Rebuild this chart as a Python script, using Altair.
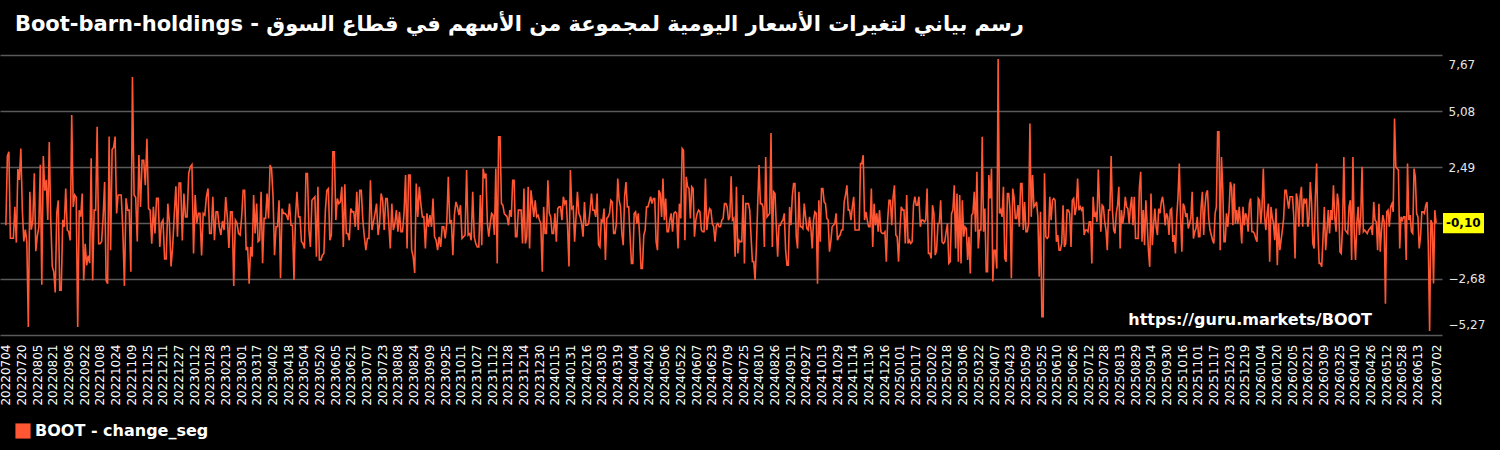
import altair as alt
import pandas as pd

# ---- data (daily change estimates, per period) ----
bounds = ["2022-07-04", "2022-10-28", "2023-02-28", "2023-06-30", "2023-10-31",
          "2024-03-01", "2024-07-02", "2024-11-01", "2025-03-03", "2025-07-04",
          "2025-11-03", "2026-03-06", "2026-07-02"]

p01 = [-0.2, 3.0, 3.2, -0.8, -0.8, -0.8, 0.65, -1.0, 2.4, 1.9, 3.35, 0.5, -0.95, -0.4, -0.95, -4.9, 1.35, -0.4, 0.0, 2.2, -1.4, -0.7, -0.3, 2.6, -2.95, 3.0, 1.4, 1.9, 0.05, 3.65, 0.05, -2.1, -2.35, -3.3, 0.35, 0.95, -3.2, -3.2, 0.05, -0.27, 1.5, -0.42, -0.5, -0.9, 4.9, 0.65, 1.2, 1.1, -4.9, 0.5, 0.2, 1.27, -2.75, -1.05, -2.05, -1.6, -1.95, 2.9, -2.75, 0.5, 0.5, 4.35, -1.05, -1.05, -0.95, 0.2, 1.8, -2.75, -2.9, 3.9, -1.35, 3.3, 3.4, 3.9, 0.35, 1.2]
p02 = [1.2, 1.2, -0.42, -3.0, 1.05, 0.5, 0.5, -2.35, 6.65, 1.2, 1.1, -0.95, 3.05, 0.65, 2.8, 2.8, 1.65, 3.8, 0.57, 0.5, -1.05, 0.65, -0.58, 1.05, 1.05, -1.2, -0.1, 0.04, -1.75, -1.75, 0.8, -0.1, -2.1, -1.2, 0.27, 1.6, -0.73, 1.75, 1.75, -0.9, 1.27, 0.19, 0.19, 2.2, 2.5, 2.6, -1.5, 1.2, -0.1, 0.35, 0.35, -1.6, 0.35, 0.27, 1.12, 1.5, -0.58, -0.58, 1.12, -0.89, 0.42, 0.42, -0.27, -0.65, 0.0, -0.42, 1.1, 0.19, -1.25, 0.42, 0.42, -3.0, 0.04, -0.1, -0.58]
p03 = [-0.65, 0.19, 1.42, 1.42, -1.35, -1.2, -2.9, -1.2, -1.65, 1.2, -0.58, 0.8, -0.96, -0.89, 1.35, -1.95, 0.12, 0.12, 1.27, 0.12, 2.58, 2.42, 1.12, -1.58, -0.27, -0.27, 0.96, -2.65, 0.57, 0.35, 0.35, 0.27, 0.04, 0.8, -0.2, -0.2, -2.73, 0.19, 1.35, 0.19, 0.19, -0.96, -1.04, -1.27, 2.19, 2.19, -0.42, -1.2, 0.96, 1.04, 1.12, -1.65, 1.58, -1.8, -1.8, -1.58, -1.5, 0.5, 1.42, 1.5, -0.89, -0.65, 3.2, 3.2, 0.04, 1.04, 0.8, 0.88, 1.58, -1.2, 1.7, -0.58, -0.58, -0.89, 0.57, 0.42, 0.42, -0.27, 1.35, -0.42]
p04 = [1.42, 1.42, 0.04, -0.73, -1.35, -0.81, -0.81, 1.88, -0.42, -0.04, 0.35, 0.8, -0.65, -0.12, 1.27, 0.96, -0.42, 1.04, 1.04, -0.12, -1.27, 0.8, -0.42, -0.12, 0.5, -0.5, 0.42, -0.5, -0.5, 0.35, 2.12, -1.27, 2.12, 2.12, -1.35, -1.65, -2.4, 1.73, 0.19, 1.58, 0.8, 0.19, 0.19, -1.27, 0.35, -0.27, 0.27, -0.27, 1.04, -0.73, -0.89, -1.35, -0.73, -1.2, -0.27, -0.27, -0.81, -0.12, 2.04, -0.12, 0.04, -1.58, 0.27, 0.88, 0.65, 0.27, 0.73, -0.81, -0.73, -0.65, 2.35, -0.65, -0.58, -0.89, 1.35, -0.73, -1.04, -1.2, -1.2]
p05 = [1.2, -1.12, 2.42, 2.04, 2.19, -0.12, -0.73, -0.12, 0.35, 0.27, -0.65, 2.42, -1.96, 3.89, 3.89, 0.8, 0.73, 0.35, 0.27, 0.19, -0.2, 0.5, 0.19, 1.88, 1.88, -0.73, -0.73, 0.5, 0.5, 0.5, -1.04, 1.5, -1.04, -0.73, 1.58, -1.27, 1.42, 0.8, 0.19, 0.96, 0.19, 0.27, 0.04, -0.12, -2.35, 0.65, -0.58, -0.58, 1.88, 0.35, 0.19, -0.58, -0.58, 0.35, -0.96, 0.57, 0.65, 0.65, 0.04, 1.12, 0.8, 0.96, -0.27, -2.1, 2.35, 0.57, 0.65, -0.96, 0.19, 1.35, 0.35, 0.19, -0.12, -0.73, 0.88, -0.2, -0.2, -0.12, 0.5, 1.27, 0.5, 0.5, 0.19, 1.27, -1.1]
p06 = [-1.2, 0.04, -0.04, 0.57, -1.8, 0.12, 0.19, 0.35, 0.96, 0.88, -0.58, -0.58, -0.12, 1.96, 0.96, 0.65, -0.58, -1.12, 1.12, 1.8, 0.65, 0.65, -0.73, -1.96, -1.96, 0.35, 0.42, -0.12, 0.35, -0.73, -2.2, -2.2, -0.65, -0.42, 0.65, 0.65, 0.88, 1.12, 0.8, 1.04, 1.04, -0.96, -1.35, 1.42, 1.27, 0.19, 1.96, 0.04, 1.04, -0.5, -0.5, 0.04, 0.35, -0.5, 0.35, 0.42, 0.35, -1.27, 0.8, 0.12, 3.35, 3.27, -0.89, 2.04, 1.58, 1.5, 0.12, 1.58, 1.5, -0.73, 0.04, 0.35, 0.5, 0.42, -0.42, -0.5, -0.5, 1.96, -0.42, 0.19, 0.57, 0.5, -0.12, -0.27, -0.96, -0.2, -0.12, -0.27]
p07 = [-0.27, 0.04, 0.12, 0.8, 0.8, 0.65, 0.04, 0.19, 2.07, 0.04, 0.12, -1.65, 1.58, -1.5, -0.89, -0.96, -0.96, 1.2, -1.96, 0.8, 0.8, 0.8, 0.5, -0.73, -1.88, -1.88, -2.73, -1.2, 0.8, 2.58, 0.8, 0.8, 0.65, -1.2, 2.96, 0.19, 0.27, 0.35, 4.07, -1.2, 1.35, 1.27, -0.27, -1.65, -0.2, -0.2, -0.04, 0.04, 0.35, -1.35, -2.04, -2.04, 0.65, -0.2, 1.12, 1.73, 1.73, -0.73, -1.27, 1.35, -0.27, -0.27, -0.35, 0.8, 0.19, -0.35, -0.42, 0.19, -0.35, -1.27, 0.04, 0.42, 0.35, -2.9, 0.96, -0.96, 1.5, 1.5, 0.88, 0.8, 0.12, 0.04, -1.42, -0.96, -0.27, -0.2, -0.12, 0.35, -0.89, -0.73]
p08 = [-0.65, -0.42, -0.42, 0.88, 1.2, 1.65, 0.5, 0.5, 0.04, 0.65, 1.12, -0.42, -0.42, -0.42, -0.42, 2.65, 2.65, 3.04, 0.04, 0.42, 0.04, -0.27, -0.27, 1.5, -1.2, 0.8, -0.2, 0.35, -0.5, 0.5, -0.5, -0.58, -0.58, -0.5, -1.88, 0.04, 0.96, 0.96, -0.2, 1.12, 1.65, -0.65, -0.73, -1.88, -0.42, 0.65, 0.5, 0.5, -1.04, 1.2, -1.04, -0.89, -1.04, -0.96, 0.73, 1.12, 0.73, 0.73, 1.12, -0.27, 0.04, 0.04, -0.04, 0.04, 1.5, -1.5, -1.5, -1.73, 0.73, 0.35, -1.58, -1.35, -0.12, -0.12, 0.96, -0.96, -1.04, -0.96, -0.5, -0.12, -1.96, -1.88, 0.35, 0.5, 1.65, -1.27, 1.27, -1.88]
p09 = [1.2, -1.96, 0.96, -0.73, -0.27, -0.35, -1.8, -0.73, -2.43, 0.27, 0.35, 1.35, -0.5, 2.27, -1.27, -0.42, -0.42, 3.89, -0.5, 0.57, -2.35, -2.35, 2.12, 1.04, 2.42, -2.8, -1.35, -1.35, -2.2, 7.48, 0.35, 0.5, 0.19, 1.58, -1.73, -1.88, 1.27, 1.27, 0.5, -2.65, 1.5, 1.12, 0.12, 0.12, 0.73, -0.27, 1.73, 1.73, -0.42, 0.88, -0.5, -0.5, -0.12, 4.5, 0.19, 2.12, 0.65, 0.73, 0.88, 0.19, -2.58, 0.42, -4.43, -4.43, 2.2, -0.73, -0.81, -0.73, 1.12, 0.04, 0.96, 1.04, 0.96, -0.96, -0.65, -1.35, -1.35, -1.04, 0.73, -1.2, -1.04, 0.5, 0.5, 0.35, -1.2, 0.96, 1.04, 0.27, 0.65, 1.96, 0.5]
p10 = [0.65, 0.5, 0.65, -0.65, -0.42, -0.42, -0.5, -0.04, -0.04, -1.96, 1.12, 0.19, 0.35, -0.04, 2.38, 0.65, -0.5, 0.73, 0.65, -0.04, -0.42, -1.35, 0.5, 0.5, 3.0, 0.5, -0.42, -0.58, 0.35, 0.73, 1.58, -1.27, 0.5, -0.12, 0.27, 1.12, 0.65, 0.57, -0.12, 0.65, 1.12, -0.2, 1.12, -0.81, -0.81, -0.81, 1.58, 2.27, -0.96, 0.5, -1.12, 0.96, -0.12, -1.35, -2.12, 1.27, -1.12, -0.2, 0.57, -0.27, -0.65, 0.57, 0.35, 0.88, 1.12, 0.65, -0.2, 0.35, 0.19, -0.65, 0.5, 0.57, -0.96, -0.65, -1.5, 0.19, 1.12, 2.65, 0.19, -1.42, 0.8, 0.65, 0.19, 0.35, -0.35, -0.12, 0.12, 1.35, -0.81, -0.5, -0.35, 0.19, -0.73]
p11 = [-0.73, 0.65, 1.35, -0.65, 0.65, 1.27, 1.42, 0.12, -0.42, -0.65, -0.89, -1.04, 0.35, 0.65, 4.12, 4.12, -1.35, 2.96, 1.58, -0.96, -0.96, 0.35, -0.27, 0.5, 1.8, 1.58, -0.2, 1.73, -0.12, 0.5, -0.12, 0.65, -0.12, -1.04, 0.65, -0.2, 0.35, 0.19, -0.5, 0.8, 1.04, -0.5, -0.5, -0.58, -0.81, -0.96, 1.04, 0.96, -0.12, 0.65, 2.42, 0.19, -0.42, 0.35, 0.8, -1.88, 0.65, 0.19, -0.12, -0.89, 0.57, -2.04, -0.12, -1.35, -0.89, -0.42, 0.12, 1.42, 1.42, 0.96, 0.57, 1.12, 1.12, 1.12, 0.19, -1.73, 1.27, 0.96, -0.27, 1.12, 1.58, -0.27, 1.04, 0.8, 1.04, -0.27, 0.12, 1.8, 0.88, -1.04, -1.27, 1.12, 2.65, -0.42, -1.96]
p12 = [-1.96, -2.12, -0.73, 0.65, -1.35, -0.5, 0.5, -0.58, 0.5, 0.04, 1.65, 0.19, -0.5, 1.27, 0.8, -1.42, -1.5, -0.27, 2.96, -0.42, -0.5, -0.58, 0.65, 0.96, -1.8, 2.96, -0.58, -1.8, -0.12, 0.65, -0.65, 0.19, 2.5, -0.5, -0.42, -0.5, -0.58, -0.42, -0.35, -0.27, -0.65, 0.88, 0.04, -0.04, -1.35, 0.8, -1.42, -0.42, 0.27, -0.04, -3.82, 0.42, 0.5, -0.27, 0.65, 0.8, 0.42, 4.74, 2.5, 2.42, 2.35, -1.27, 0.19, 0.04, 0.19, 0.19, -1.8, 2.65, 0.04, 0.27, -0.5, -0.58, 2.42, 2.04, 0.35, 0.19, -1.27, -0.73, 0.42, 0.42, 0.35, 0.73, 0.88, -1.12, -5.08, 0.04, -0.12, -2.89, 0.5, -0.1]

periods = [p01, p02, p03, p04, p05, p06, p07, p08, p09, p10, p11, p12]

y_ticks = [7.67, 5.08, 2.49, -0.10, -2.68, -5.27]
highlight_value = -0.10
series_name = "BOOT - change_seg"
title_text = "Boot-barn-holdings - رسم بياني لتغيرات الأسعار اليومية لمجموعة من الأسهم في قطاع السوق"
watermark = "https://guru.markets/BOOT"

# ---- build table ----
rows = []
for i, vals in enumerate(periods):
    s = pd.Timestamp(bounds[i])
    e = pd.Timestamp(bounds[i + 1])
    last = i == len(periods) - 1
    ts = pd.date_range(s, e, periods=len(vals) + (0 if last else 1))
    if not last:
        ts = ts[:-1]
    for t, v in zip(ts, vals):
        rows.append({"date": t.strftime("%Y-%m-%dT%H:%M:%SZ"), "v": v, "series": series_name})
df = pd.DataFrame(rows)

start = pd.Timestamp(bounds[0])
end = pd.Timestamp(bounds[-1])
label_dates = list(pd.date_range(start, end, freq="16D"))
# the final date is always labelled; a regular label too close to it is dropped
label_dates = [d for d in label_dates if (end - d).days >= 16]
label_dates.append(end)


def dt(d):
    return alt.DateTime(year=d.year, month=d.month, date=d.day, utc=True)


x_values = [dt(d) for d in label_dates]
x_domain = [dt(start - pd.Timedelta(days=6)), dt(end + pd.Timedelta(days=6))]

yscale = alt.Scale(domain=[min(y_ticks), max(y_ticks)], nice=False, zero=False)
xscale = alt.Scale(type="utc", domain=x_domain, nice=False)

label_expr = ("abs(datum.value - (%f)) < 0.001 ? '' : replace(format(datum.value, '.2f'), '.', ',')"
              % highlight_value)

line = alt.Chart(df).mark_line(strokeWidth=1.6).encode(
    x=alt.X("date:T", scale=xscale, title=None,
            axis=alt.Axis(values=x_values, labelExpr="utcFormat(datum.value, '%Y%m%d')",
                          labelAngle=270, labelAlign="right", labelBaseline="middle",
                          labelOverlap=False, labelPadding=9, ticks=False, domain=False,
                          grid=False, labelColor="white", labelFontSize=12,
                          labelFont="DejaVu Sans")),
    y=alt.Y("v:Q", scale=yscale, title=None,
            axis=alt.Axis(orient="right", values=y_ticks, labelExpr=label_expr, ticks=False,
                          domain=False, grid=True, gridColor="#5a5a5a", gridWidth=1.5,
                          labelColor="#e6e6e6", labelFontSize=12, labelFont="DejaVu Sans",
                          labelPadding=6, labelFlush=True, labelFlushOffset=-4)),
    color=alt.Color("series:N", scale=alt.Scale(domain=[series_name], range=["#FF5733"]),
                    legend=alt.Legend(title=None, orient="none", legendX=15, legendY=368,
                                      symbolType="square", symbolSize=230,
                                      symbolFillColor="#FF5733", symbolStrokeColor="#FF5733",
                                      symbolStrokeWidth=0, labelColor="white", labelFontSize=16,
                                      labelFontWeight="bold", labelFont="DejaVu Sans",
                                      labelLimit=0)),
)

hl_df = pd.DataFrame({"v": [highlight_value]})
hl_df["lo"] = hl_df["v"] - 0.47
hl_df["hi"] = hl_df["v"] + 0.47
hl_df["label"] = hl_df["v"].map(lambda x: ("%.2f" % x).replace(".", ","))

hl_box = alt.Chart(hl_df).mark_rect(color="#ffff00").encode(
    x=alt.value(1443), x2=alt.value(1484),
    y=alt.Y("lo:Q", scale=yscale), y2="hi:Q")
hl_text = alt.Chart(hl_df).mark_text(align="left", baseline="middle", fontWeight="bold",
                                     fontSize=12, font="DejaVu Sans", color="black").encode(
    x=alt.value(1446), y=alt.Y("v:Q", scale=yscale), text="label:N")

wm = alt.Chart(pd.DataFrame({"t": [watermark]})).mark_text(
    align="right", baseline="middle", fontWeight="bold", fontSize=16, font="DejaVu Sans",
    color="white").encode(x=alt.value(1372), y=alt.value(265), text="t:N")

chart = alt.layer(line, hl_box, hl_text, wm).properties(
    width=1442, height=280,
    title=alt.TitleParams(text=title_text, anchor="start", fontSize=21, font="DejaVu Sans",
                          fontWeight="bold", color="white", dx=15, offset=20),
    autosize=alt.AutoSizeParams(type="none"),
    padding={"left": 0, "top": 55, "right": 58, "bottom": 115},
).configure(background="black").configure_view(stroke=None)

chart.save("out.html", embed_options={"renderer": "svg", "actions": False})
